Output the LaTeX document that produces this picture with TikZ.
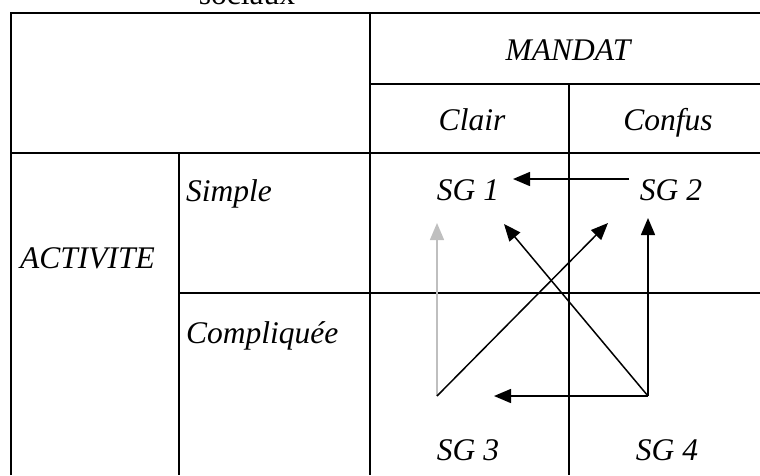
\documentclass[tikz,border=0pt]{standalone}
\usepackage{fontspec}
\setmainfont{Liberation Serif}
\usetikzlibrary{arrows.meta}
\begin{document}
\begin{tikzpicture}[x=1pt,y=-1pt,
  grid/.style={line width=2pt,black},
  lbl/.style={inner sep=0pt,anchor=base,font=\fontsize{31.5}{36}\selectfont\itshape},
  lbll/.style={lbl,anchor=base west},
  arr/.style={line width=1.5pt,-{Triangle[length=17pt,width=14pt]}},
  grayarr/.style={arr,color=black!25}]
\clip (0,0) rectangle (760,475);
\useasboundingbox (0,0) rectangle (760,475);
% table
\draw[grid] (11,475) -- (11,13) -- (760,13);
\draw[grid] (370,13) -- (370,475);
\draw[grid] (370,84) -- (760,84);
\draw[grid] (569,84) -- (569,475);
\draw[grid] (11,153) -- (760,153);
\draw[grid] (179,153) -- (179,475);
\draw[grid] (179,293) -- (760,293);
% texts
\node[inner sep=0pt,anchor=base,font=\fontsize{31.5}{36}\selectfont] (soc) at (247,4) {sociaux};
\node[lbl] (mandat) at (568,60) {MANDAT};
\node[lbl] (clair) at (472,130) {Clair};
\node[lbl] (confus) at (668,130) {Confus};
\node[lbll] (simple) at (186,201) {Simple};
\node[lbll] (activite) at (20,268) {ACTIVITE};
\node[lbll] (compliquee) at (186,343) {Compliquée};
\node[lbl] (sg1) at (468,200) {SG 1};
\node[lbl] (sg2) at (671,200) {SG 2};
\node[lbl] (sg3) at (468,460) {SG 3};
\node[lbl] (sg4) at (667,460) {SG 4};
% arrow points
\coordinate (a2) at (629,179);
\coordinate (a1) at (513,179);
\coordinate (c3) at (437,396);
\coordinate (g1) at (437,223);
\coordinate (t2) at (608,223);
\coordinate (c4) at (648,396);
\coordinate (t1) at (504,224);
\coordinate (t2b) at (648,218);
\coordinate (t3) at (494,396);
% arrows
\draw[arr] (a2) -- (a1);
\draw[grayarr] (c3) -- (g1);
\draw[arr] (c3) -- (t2);
\draw[arr] (c4) -- (t1);
\draw[arr] (c4) -- (t2b);
\draw[arr] (c4) -- (t3);
\end{tikzpicture}
\end{document}
